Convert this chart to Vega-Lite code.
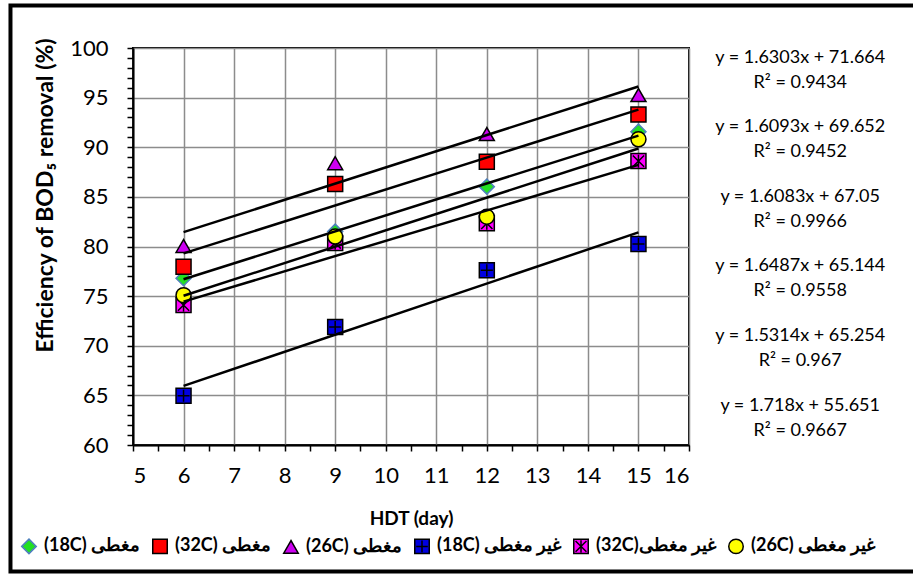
{
  "$schema": "https://vega.github.io/schema/vega-lite/v6.json",
  "width": 556,
  "height": 397,
  "autosize": "none",
  "padding": {"left": 133, "top": 48, "right": 224, "bottom": 129},
  "background": "white",
  "config": {
    "font": "Lato",
    "view": {"stroke": "black", "strokeWidth": 2},
    "axis": {
      "labelFont": "Lato",
      "titleFont": "Lato",
      "labelColor": "black",
      "titleColor": "black",
      "domainColor": "black",
      "tickColor": "black",
      "gridColor": "#8c8c8c",
      "gridWidth": 1.5,
      "domainWidth": 2,
      "tickWidth": 1.5
    },
    "legend": {
      "orient": "none",
      "legendX": -113,
      "legendY": 489,
      "direction": "horizontal",
      "columns": 6,
      "labelFont": "Lato",
      "labelFontSize": 18,
      "labelFontWeight": "bold",
      "labelColor": "black",
      "labelLimit": 400,
      "symbolSize": 210,
      "symbolStrokeWidth": 1.5,
      "labelOffset": 6,
      "columnPadding": 8,
      "padding": 0
    }
  },
  "datasets": {
    "points": [
      {"series": "(18C) مغطى", "hdt": 6, "eff": 76.8},
      {"series": "(18C) مغطى", "hdt": 9, "eff": 81.5},
      {"series": "(18C) مغطى", "hdt": 12, "eff": 86.03},
      {"series": "(18C) مغطى", "hdt": 15, "eff": 91.57},
      {"series": "(32C) مغطى", "hdt": 6, "eff": 77.97},
      {"series": "(32C) مغطى", "hdt": 9, "eff": 86.3},
      {"series": "(32C) مغطى", "hdt": 12, "eff": 88.54},
      {"series": "(32C) مغطى", "hdt": 15, "eff": 93.3},
      {"series": "(26C) مغطى", "hdt": 6, "eff": 80.05},
      {"series": "(26C) مغطى", "hdt": 9, "eff": 88.4},
      {"series": "(26C) مغطى", "hdt": 12, "eff": 91.33},
      {"series": "(26C) مغطى", "hdt": 15, "eff": 95.26},
      {"series": "(18C) غير مغطى", "hdt": 6, "eff": 64.97},
      {"series": "(18C) غير مغطى", "hdt": 9, "eff": 71.9},
      {"series": "(18C) غير مغطى", "hdt": 12, "eff": 77.6},
      {"series": "(18C) غير مغطى", "hdt": 15, "eff": 80.25},
      {"series": "(32C)غير مغطى", "hdt": 6, "eff": 74.1},
      {"series": "(32C)غير مغطى", "hdt": 9, "eff": 80.35},
      {"series": "(32C)غير مغطى", "hdt": 12, "eff": 82.33},
      {"series": "(32C)غير مغطى", "hdt": 15, "eff": 88.61},
      {"series": "(26C) غير مغطى", "hdt": 6, "eff": 75.1},
      {"series": "(26C) غير مغطى", "hdt": 9, "eff": 81.0},
      {"series": "(26C) غير مغطى", "hdt": 12, "eff": 83.0},
      {"series": "(26C) غير مغطى", "hdt": 15, "eff": 90.8}
    ],
    "trend": [
      {"series": "(26C) مغطى", "hdt": 6, "eff": 81.446},
      {"series": "(26C) مغطى", "hdt": 15, "eff": 96.119},
      {"series": "(32C) مغطى", "hdt": 6, "eff": 79.308},
      {"series": "(32C) مغطى", "hdt": 15, "eff": 93.792},
      {"series": "(18C) مغطى", "hdt": 6, "eff": 76.700},
      {"series": "(18C) مغطى", "hdt": 15, "eff": 91.175},
      {"series": "(26C) غير مغطى", "hdt": 6, "eff": 75.036},
      {"series": "(26C) غير مغطى", "hdt": 15, "eff": 89.875},
      {"series": "(32C)غير مغطى", "hdt": 6, "eff": 74.442},
      {"series": "(32C)غير مغطى", "hdt": 15, "eff": 88.225},
      {"series": "(18C) غير مغطى", "hdt": 6, "eff": 65.959},
      {"series": "(18C) غير مغطى", "hdt": 15, "eff": 81.421}
    ],
    "eq": [
      {"rank": 1, "label": "y = 1.6303x + 71.664\nR² = 0.9434"},
      {"rank": 2, "label": "y = 1.6093x + 69.652\nR² = 0.9452"},
      {"rank": 3, "label": "y = 1.6083x + 67.05\nR² = 0.9966"},
      {"rank": 4, "label": "y = 1.6487x + 65.144\nR² = 0.9558"},
      {"rank": 5, "label": "y = 1.5314x + 65.254\nR² = 0.967"},
      {"rank": 6, "label": "y = 1.718x + 55.651\nR² = 0.9667"}
    ]
  },
  "layer": [
    {
      "data": {"values": [{"frame": 1}]},
      "mark": {"type": "rect", "fill": null, "stroke": "black", "strokeWidth": 4},
      "encoding": {
        "x": {"datum": 2.576, "type": "quantitative", "scale": {"domain": [5, 16], "nice": false, "zero": false},
              "axis": {"orient": "bottom", "values": [5.5, 6.5, 7.5, 8.5, 9.5, 10.5, 11.5, 12.5, 13.5, 14.5, 15.5], "labels": false, "domain": false, "grid": false, "tickSize": 6, "title": null}},
        "x2": {"datum": 20.77},
        "y": {"datum": 104.28, "type": "quantitative", "scale": {"domain": [60, 100], "nice": false, "zero": false},
              "axis": {"orient": "left", "values": [61,62,63,64,66,67,68,69,71,72,73,74,76,77,78,79,81,82,83,84,86,87,88,89,91,92,93,94,96,97,98,99], "labels": false, "domain": false, "grid": false, "tickSize": 6, "title": null}},
        "y2": {"datum": 47.25}
      }
    },
    {
      "data": {"name": "points"},
      "mark": {"type": "point", "filled": true, "size": 225, "strokeWidth": 1.5, "opacity": 1},
      "encoding": {
        "x": {"field": "hdt", "type": "quantitative", "scale": {"domain": [5, 16], "nice": false, "zero": false},
              "axis": {"orient": "bottom", "values": [5,6,7,8,9,10,11,12,13,14,15,16], "tickSize": 6, "labelFontSize": 22, "labelPadding": 14, "grid": true,
                       "title": "HDT (day)", "titleFontSize": 19, "titleFontWeight": "bold", "titleY": 73, "titleBaseline": "middle"}},
        "y": {"field": "eff", "type": "quantitative", "scale": {"domain": [60, 100], "nice": false, "zero": false},
              "axis": {"orient": "left", "values": [60,65,70,75,80,85,90,95,100], "tickSize": 6, "labelFontSize": 22, "labelPadding": 19, "grid": true,
                       "title": "Efficiency of  BOD₅ removal (%)", "titleFontSize": 23, "titleFontWeight": "bold", "titleX": -88, "titleY": 147, "titleBaseline": "middle"}},
        "shape": {"field": "series", "type": "nominal",
                  "scale": {"domain": ["(18C) مغطى", "(32C) مغطى", "(26C) مغطى", "(18C) غير مغطى", "(32C)غير مغطى", "(26C) غير مغطى"],
                            "range": ["diamond", "square", "triangle-up", "M-1,-1L1,-1L1,1L-1,1Z M0,-0.8L0,0.8 M-0.8,0L0.8,0", "M-1,-1L1,-1L1,1L-1,1Z M-0.75,-0.75L0.75,0.75 M-0.75,0.75L0.75,-0.75 M0,-0.85L0,0.85", "circle"]},
                  "legend": {"title": null}},
        "fill": {"field": "series", "type": "nominal",
                 "scale": {"domain": ["(18C) مغطى", "(32C) مغطى", "(26C) مغطى", "(18C) غير مغطى", "(32C)غير مغطى", "(26C) غير مغطى"],
                           "range": ["#22e022", "#ff0000", "#cc00f0", "#0000e0", "#ff00ff", "#ffff00"]},
                 "legend": {"title": null}},
        "stroke": {"field": "series", "type": "nominal",
                   "scale": {"domain": ["(18C) مغطى", "(32C) مغطى", "(26C) مغطى", "(18C) غير مغطى", "(32C)غير مغطى", "(26C) غير مغطى"],
                             "range": ["#4f81bd", "#000000", "#000000", "#000000", "#000000", "#000000"]},
                   "legend": {"title": null}}
      }
    },
    {
      "data": {"name": "trend"},
      "mark": {"type": "line", "color": "black", "strokeWidth": 2.5},
      "encoding": {
        "x": {"field": "hdt", "type": "quantitative", "scale": {"domain": [5, 16], "nice": false, "zero": false}, "axis": null},
        "y": {"field": "eff", "type": "quantitative", "scale": {"domain": [60, 100], "nice": false, "zero": false}, "axis": null},
        "detail": {"field": "series", "type": "nominal"}
      }
    },
    {
      "data": {"name": "eq"},
      "mark": {"type": "text", "lineBreak": "\n", "lineHeight": 25, "fontSize": 18, "font": "Lato", "align": "center", "baseline": "middle", "color": "black"},
      "encoding": {
        "x": {"datum": 18.2, "type": "quantitative", "axis": null},
        "y": {"field": "rank", "type": "ordinal", "scale": {"type": "point", "padding": 0.352, "align": 0.194}, "axis": null},
        "text": {"field": "label", "type": "nominal"}
      }
    }
  ],
  "resolve": {"scale": {"y": "independent"}, "axis": {"x": "independent", "y": "independent"}}
}
